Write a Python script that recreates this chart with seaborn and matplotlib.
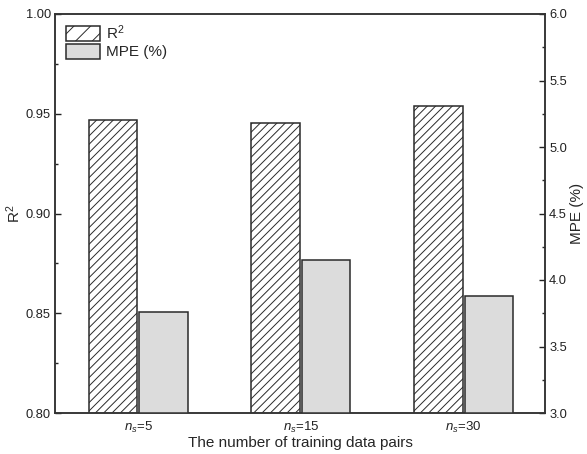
import matplotlib
matplotlib.use("Agg")
import matplotlib.pyplot as plt
import seaborn as sns
import pandas as pd
import numpy as np
from matplotlib.patches import Patch
from matplotlib.ticker import MultipleLocator, AutoMinorLocator

categories = [r"$n_s$=5", r"$n_s$=15", r"$n_s$=30"]
r2_values = [0.947, 0.9455, 0.9537]
mpe_values = [3.76, 4.15, 3.88]
series_names = ["R$^2$", "MPE (%)"]

sns.set_theme(style="ticks")
plt.rcParams["font.family"] = ["Liberation Sans", "DejaVu Sans"]
plt.rcParams["mathtext.fontset"] = "custom"
plt.rcParams["mathtext.rm"] = "Liberation Sans"
plt.rcParams["mathtext.it"] = "Liberation Sans:italic"
plt.rcParams["hatch.color"] = "#999999"
plt.rcParams["hatch.linewidth"] = 0.7

idx = np.arange(len(categories))
bar_w = 0.298
offset = 0.155
df_r2 = pd.DataFrame({"pos": idx - offset, "val": r2_values})
df_mpe = pd.DataFrame({"pos": idx + offset, "val": mpe_values})

fig = plt.figure(figsize=(5.87, 4.54), dpi=100)
ax = fig.add_axes([55/587, 41/454, 490/587, 399/454])
ax2 = ax.twinx()

edge = "#2a2a2a"
gray = "#dcdcdc"
sns.barplot(data=df_r2, x="pos", y="val", native_scale=True, width=bar_w,
            color="white", saturation=1, edgecolor=edge, linewidth=1.1,
            hatch="////", ax=ax)
sns.barplot(data=df_mpe, x="pos", y="val", native_scale=True, width=bar_w,
            color=gray, saturation=1, edgecolor=edge, linewidth=1.1, ax=ax2)

ax.set_xlim(-0.51, 2.50)
ax.set_xticks(idx)
ax.set_xticklabels(categories)

ax.yaxis.set_major_locator(MultipleLocator(0.05))
ax.yaxis.set_minor_locator(AutoMinorLocator(2))
ax2.yaxis.set_major_locator(MultipleLocator(0.5))
ax2.yaxis.set_minor_locator(AutoMinorLocator(2))
ax.set_ylim(0.80, 1.00)
ax2.set_ylim(3.0, 6.0)
ax.yaxis.set_major_formatter(matplotlib.ticker.FormatStrFormatter("%.2f"))
ax2.yaxis.set_major_formatter(matplotlib.ticker.FormatStrFormatter("%.1f"))

for a in (ax, ax2):
    a.tick_params(axis="y", which="major", length=4, width=1, direction="in",
                  labelsize=9.3, colors="#222222", pad=3)
    a.tick_params(axis="y", which="minor", length=2, width=1, direction="in")
    for s in a.spines.values():
        s.set_linewidth(1.1)
        s.set_color("#333333")
ax.tick_params(axis="x", length=0, labelsize=9.5, pad=5, colors="#222222")

ax.set_ylabel("R$^2$", fontsize=11, labelpad=2)
ax2.set_ylabel("MPE (%)", fontsize=11, labelpad=2)
ax.set_xlabel("The number of training data pairs", fontsize=11, labelpad=1)

handles = [Patch(facecolor="white", edgecolor=edge, hatch="//", linewidth=1.1),
           Patch(facecolor=gray, edgecolor=edge, linewidth=1.1)]
ax.legend(handles, series_names, loc="upper left", frameon=False, fontsize=11,
          handlelength=2.2, handleheight=1.1, handletextpad=0.45, labelspacing=0.15,
          borderaxespad=0.0, borderpad=0.0, bbox_to_anchor=(11/490, 1 - 9/399))

fig.savefig("out.png", dpi=100)
